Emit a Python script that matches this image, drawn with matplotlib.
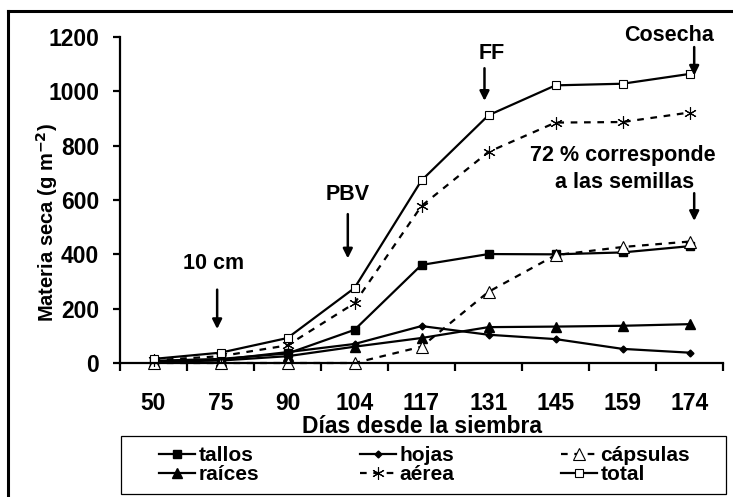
import matplotlib.pyplot as plt
from matplotlib.lines import Line2D
from matplotlib.patches import Rectangle

plt.rcParams['font.family'] = ['Liberation Sans', 'DejaVu Sans']
plt.rcParams['font.weight'] = 'bold'
plt.rcParams['mathtext.default'] = 'bf'

# days after sowing (categorical axis)
dias = ["50", "75", "90", "104", "117", "131", "145", "159", "174"]

tallos = [8, 15, 35, 122, 361, 401, 400, 407, 430]
hojas = [6, 12, 40, 70, 136, 104, 88, 52, 38]
capsulas = [0, 0, 0, 0, 60, 262, 397, 427, 447]
raices = [5, 9, 25, 60, 92, 132, 134, 137, 143]
aerea = [10, 25, 65, 220, 578, 777, 885, 887, 922]
total = [15, 38, 92, 276, 672, 912, 1022, 1028, 1064]

W, H = 733, 497
fig = plt.figure(figsize=(W / 100, H / 100), dpi=100)
ax = fig.add_axes([120 / W, 1 - 363 / H, 603 / W, 326 / H])

x = list(range(len(dias)))
lw = 1.6
common = dict(color="black", linewidth=lw, clip_on=False)

h_tallos, = ax.plot(x, tallos, marker="s", markersize=5.5, markerfacecolor="black", label="tallos", **common)
h_hojas, = ax.plot(x, hojas, marker="D", markersize=3.5, markerfacecolor="black", label="hojas", **common)
h_raices, = ax.plot(x, raices, marker="^", markersize=6.5, markerfacecolor="black", label="raíces", **common)
h_caps, = ax.plot(x, capsulas, marker="^", markersize=8, markerfacecolor="white", markeredgewidth=0.8,
                  linestyle=(0, (3, 3)), label="cápsulas", **common)
h_aerea, = ax.plot(x, aerea, marker=(6, 2, 0), markersize=9, markeredgewidth=0.8,
                   linestyle=(0, (3, 3)), label="aérea", **common)
h_total, = ax.plot(x, total, marker="s", markersize=6, markerfacecolor="white", markeredgewidth=0.8,
                   label="total", **common)

ax.set_xlim(-0.5, len(dias) - 0.5)
ax.set_ylim(0, 1200)
ax.set_yticks([0, 200, 400, 600, 800, 1000, 1200])
ax.set_xticks(x)
ax.set_xticklabels(dias)
ax.set_xticks([i - 0.5 for i in range(len(dias) + 1)], minor=True)
ax.tick_params(axis="x", which="major", length=0, pad=21, labelsize=16.5)
ax.tick_params(axis="x", which="minor", length=6, width=1.6, direction="out")
ax.tick_params(axis="y", length=5, width=1.6, direction="out", labelsize=16.5, pad=10)
for side in ["top", "right"]:
    ax.spines[side].set_visible(False)
for side in ["left", "bottom"]:
    ax.spines[side].set_linewidth(1.6)

ax.set_xlabel("Días desde la siembra", fontsize=16.5, fontweight="bold", labelpad=0)
ax.set_ylabel("Materia seca (g m$^{-2}$)", fontsize=14.5, fontweight="bold")
ax.yaxis.set_label_coords(-0.1, 0.43)

# stage annotations
arrow = dict(arrowstyle="-|>", color="black", lw=1.8, mutation_scale=14, shrinkA=0, shrinkB=0)
tsize = 15.5
ax.annotate("", xy=(0.95, 125), xytext=(0.95, 270), arrowprops=arrow)
ax.text(0.9, 365, "10 cm", ha="center", va="center", fontsize=tsize, fontweight="bold")
ax.annotate("", xy=(2.9, 385), xytext=(2.9, 548), arrowprops=arrow)
ax.text(2.9, 622, "PBV", ha="center", va="center", fontsize=tsize, fontweight="bold")
ax.annotate("", xy=(4.94, 965), xytext=(4.94, 1085), arrowprops=arrow)
ax.text(5.05, 1140, "FF", ha="center", va="center", fontsize=tsize, fontweight="bold")
ax.annotate("", xy=(8.07, 1058), xytext=(8.07, 1163), arrowprops=arrow)
ax.text(7.7, 1207, "Cosecha", ha="center", va="center", fontsize=tsize, fontweight="bold")
ax.text(7.0, 765, "72 % corresponde", ha="center", va="center", fontsize=tsize, fontweight="bold")
ax.text(7.03, 666, "a las semillas", ha="center", va="center", fontsize=tsize, fontweight="bold")
ax.annotate("", xy=(8.07, 523), xytext=(8.07, 625), arrowprops=arrow)

# legend below the plot: one column per legend, box drawn separately
columns = [([h_tallos, h_raices], 159), ([h_hojas, h_aerea], 360), ([h_caps, h_total], 561)]
for hs, xpix in columns:
    leg = fig.legend(handles=hs, labels=[h.get_label() for h in hs], loc="center left",
                     bbox_to_anchor=(xpix / W, 1 - 465 / H), fontsize=15, frameon=False,
                     handlelength=1.75, handletextpad=0.15, borderpad=0, borderaxespad=0,
                     labelspacing=0.0)
    for t in leg.get_texts():
        t.set_fontweight("bold")
fig.add_artist(Rectangle((121 / W, 1 - 494 / H), 605 / W, 58 / H, transform=fig.transFigure,
                         fill=False, edgecolor="black", linewidth=0.9))

# outer frame (cut off at right and bottom)
fig.add_artist(Line2D([8 / W, 8 / W], [0, 1 - 11 / H], color="black", linewidth=2.2))
fig.add_artist(Line2D([8 / W, 1], [1 - 11 / H, 1 - 11 / H], color="black", linewidth=2.2))

fig.savefig("out.png", dpi=100)
